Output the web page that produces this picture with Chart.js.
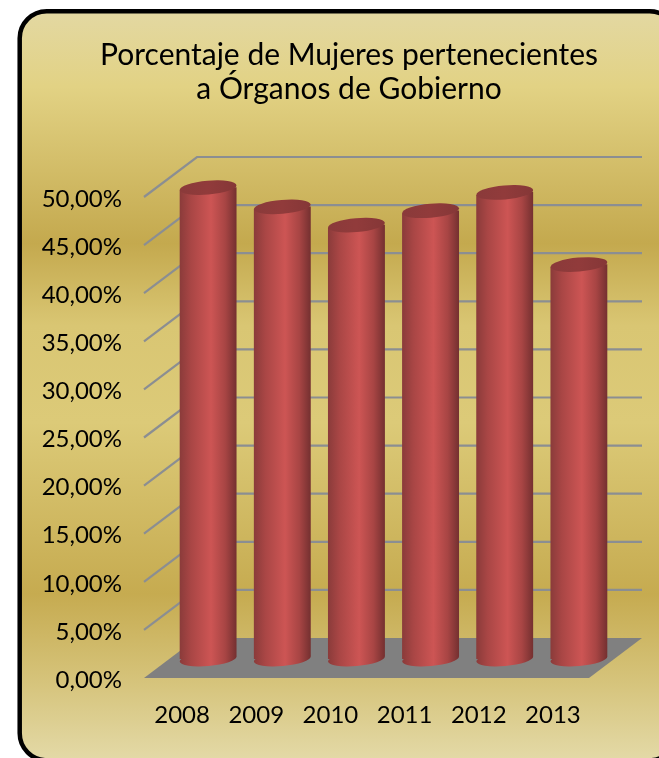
<!DOCTYPE html>
<html><head><meta charset="utf-8">
<style>html,body{margin:0;padding:0;background:#fff;overflow:hidden}canvas{display:block}</style>
<script src="https://cdn.jsdelivr.net/npm/chart.js@4"></script></head>
<body><div style="width:659px;height:758px"><canvas id="c" width="659" height="758"></canvas></div>
<script>
const titleLines = ['Porcentaje de Mujeres pertenecientes', 'a Órganos de Gobierno'];
const categories = ['2008', '2009', '2010', '2011', '2012', '2013'];
const womenShare = [49.0, 47.0, 45.1, 46.6, 48.5, 41.0];
const yMax = 50, yStep = 5;

const FONT = 'Lato';
const DEPTH = {x: 53, y: -40};     // back wall offset from front plane
const BAR = {x: 27, y: -19, tilt: 5, ry: 7};

function formatPct(v){ return v.toFixed(2).replace('.', ',') + '%'; }

function barPath(ctx, el){
  const l = el.x - el.width/2, r = el.x + el.width/2, t = BAR.tilt/2;
  ctx.moveTo(l, el.y + t); ctx.lineTo(r, el.y - t);
  ctx.lineTo(r, el.base - t); ctx.lineTo(l, el.base + t); ctx.closePath();
}
function cap(ctx, x, y, w){
  ctx.beginPath();
  ctx.ellipse(x, y, w/2, BAR.ry, -Math.atan2(BAR.tilt, w), 0, Math.PI*2);
}
function barGradient(ctx, c){
  const g = ctx.createLinearGradient(c.l, 0, c.r, 0);
  g.addColorStop(0, '#8a3b3a'); g.addColorStop(0.2, '#a94645');
  g.addColorStop(0.55, '#cd5554'); g.addColorStop(0.8, '#a84544');
  g.addColorStop(1, '#743030');
  return g;
}
const scene = {
  id: 'scene',
  beforeDraw(chart){
    const ctx = chart.ctx;
    ctx.save();
    const g = ctx.createLinearGradient(0, 12, 0, 758);
    g.addColorStop(0, '#e3d8a2'); g.addColorStop(0.1, '#e2d284');
    g.addColorStop(0.31, '#c4a94e'); g.addColorStop(0.42, '#d9c673');
    g.addColorStop(0.55, '#dcca78'); g.addColorStop(0.78, '#c6ab50');
    g.addColorStop(0.9, '#d6c47c'); g.addColorStop(1, '#e3d9a6');
    ctx.beginPath();
    ctx.roundRect(19.7, 11.3, 657, 749, 27);
    ctx.fillStyle = g; ctx.fill();
    ctx.lineWidth = 4.5; ctx.strokeStyle = '#000'; ctx.stroke();
    ctx.restore();
  },
  beforeDatasetsDraw(chart){
    const ctx = chart.ctx, a = chart.chartArea, y = chart.scales.y;
    ctx.save();
    const base = y.getPixelForValue(0);
    ctx.fillStyle = '#808080';
    ctx.beginPath();
    ctx.moveTo(a.left, base); ctx.lineTo(a.right, base);
    ctx.lineTo(a.right + DEPTH.x, base + DEPTH.y);
    ctx.lineTo(a.left + DEPTH.x, base + DEPTH.y); ctx.closePath(); ctx.fill();
    ctx.strokeStyle = '#8b8e92'; ctx.lineWidth = 2.2;
    y.ticks.forEach(t => {
      const py = y.getPixelForValue(t.value);
      if (t.value === 0) return;
      ctx.beginPath();
      ctx.moveTo(a.left, py);
      ctx.lineTo(a.left + DEPTH.x, py + DEPTH.y);
      ctx.lineTo(a.right + DEPTH.x, py + DEPTH.y);
      ctx.stroke();
    });
    ctx.restore();
  },
  beforeDatasetDraw(chart){
    const ctx = chart.ctx, els = chart.getDatasetMeta(0).data;
    ctx.save();
    ctx.translate(BAR.x, BAR.y);
    els.forEach(el => {
      ctx.fillStyle = barGradient(ctx, {l: el.x - el.width/2, r: el.x + el.width/2});
      cap(ctx, el.x, el.base, el.width); ctx.fill();
    });
    ctx.beginPath();
    els.forEach(el => barPath(ctx, el));
    ctx.clip();
  },
  afterDatasetDraw(chart){
    const ctx = chart.ctx, els = chart.getDatasetMeta(0).data;
    ctx.restore();
    ctx.save();
    ctx.translate(BAR.x, BAR.y);
    els.forEach(el => {
      const g = ctx.createLinearGradient(el.x - el.width/2, 0, el.x + el.width/2, 0);
      g.addColorStop(0, '#8a3a3a'); g.addColorStop(0.5, '#913b3b'); g.addColorStop(1, '#853737');
      ctx.fillStyle = g;
      cap(ctx, el.x, el.y, el.width); ctx.fill();
    });
    ctx.restore();
  }
};

new Chart(document.getElementById('c'), {
  type: 'bar',
  data: { labels: categories, datasets: [{
    data: womenShare,
    barThickness: 57,
    backgroundColor(c){
      const chart = c.chart;
      if (!chart.chartArea) return '#c05050';
      const x = chart.scales.x.getPixelForValue(c.dataIndex);
      return barGradient(chart.ctx, {l: x - 28.5, r: x + 28.5});
    }
  }]},
  plugins: [scene],
  options: {
    responsive: false, animation: false,
    layout: { padding: { left: 39, right: 0, top: 0, bottom: 0 } },
    plugins: {
      legend: { display: false }, tooltip: { enabled: false },
      title: { display: true, text: titleLines, color: '#000',
        font: { family: FONT, size: 30, weight: 'normal', lineHeight: 34/30 },
        padding: { top: 38, bottom: 91 } }
    },
    scales: {
      x: { grid: { display: false }, border: { display: false },
        ticks: { color: '#000', font: { family: FONT, size: 24 }, padding: 15, labelOffset: 1, maxRotation: 0 },
        afterFit(s){ s.height = 80; } },
      y: { min: 0, max: yMax, grid: { display: false }, border: { display: false },
        ticks: { stepSize: yStep, color: '#000', font: { family: FONT, size: 24 }, padding: 14, labelOffset: 2,
          callback: v => formatPct(v) },
        afterFit(s){ s.width = 105; } },
      gutter: { axis: 'y', position: 'right', min: 0, max: yMax, grid: { display: false }, border: { display: false },
        ticks: { display: false },
        afterFit(s){ s.width = 70; } }
    }
  }
});
</script></body></html>
